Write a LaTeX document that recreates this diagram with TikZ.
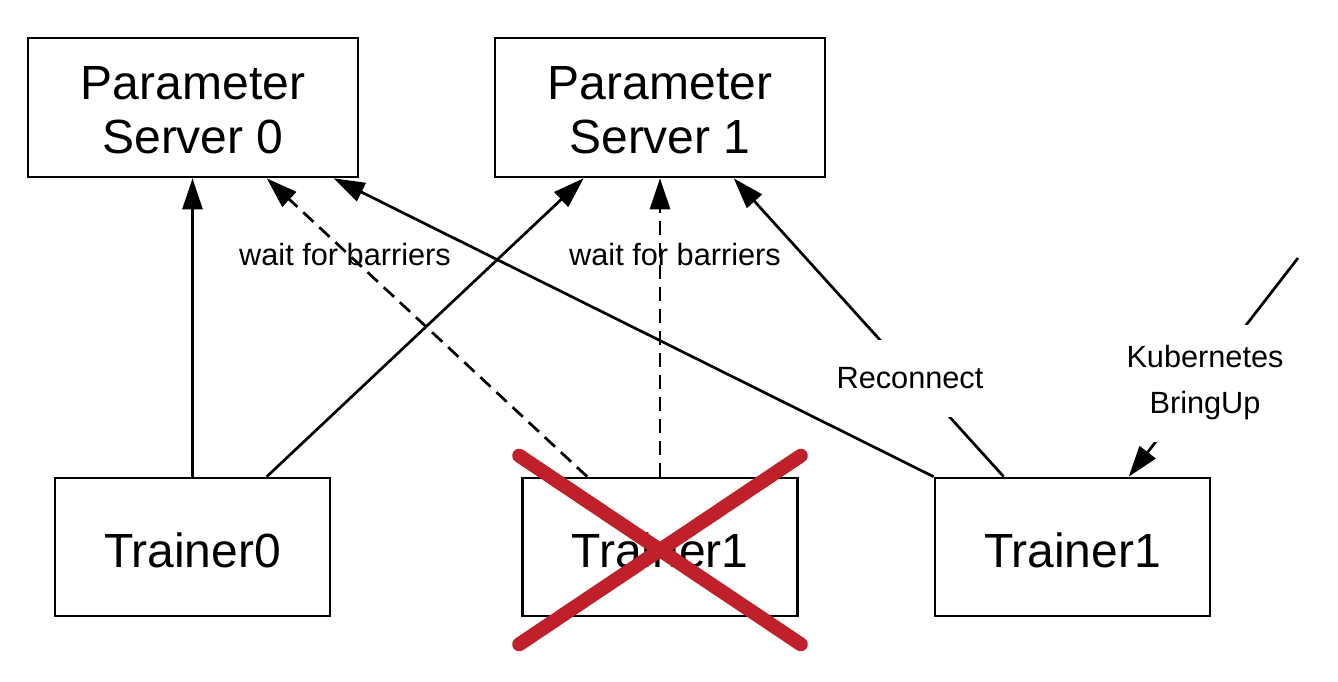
\documentclass[tikz,border=0pt]{standalone}
\usepackage{fontspec}
\setmainfont{Liberation Sans}
\usetikzlibrary{calc,arrows.meta}
\definecolor{crossred}{RGB}{192,32,42}
\tikzset{
  box/.style={draw=black, line width=2.6pt, inner sep=0pt},
  psbox/.style={box, minimum width=330pt, minimum height=139pt},
  trbox/.style={box, minimum width=275pt, minimum height=138pt},
  boxtext/.style={inner sep=0pt, align=center, font=\fontsize{48}{54}\selectfont},
  conn/.style={line width=2.7pt, -{Triangle[length=31pt,width=20pt]}},
  dconn/.style={conn, dash pattern=on 14pt off 8pt},
  lbl/.style={font=\fontsize{30.7}{46}\selectfont, align=center, inner sep=0pt},
  gaplbl/.style={lbl, fill=white},
  cross/.style={draw=crossred, line width=14pt, line cap=round}
}
\begin{document}
\begin{tikzpicture}[x=1pt, y=-1pt]
\useasboundingbox (0,0) rectangle (1338,681);
\fill[white] (0,0) rectangle (1338,681);
\node[psbox] (ps0) at (193,107.5) {};
\node[psbox] (ps1) at (660,107.5) {};
\node[trbox] (t0) at (192.5,547) {};
\node[trbox] (tx) at (660,547) {};
\node[trbox] (t1) at (1072.5,547) {};
\node[boxtext] (ps0t) at ($(ps0.center)+(0,3)$) {Parameter\\Server 0};
\node[boxtext] (ps1t) at ($(ps1.center)+(0,3)$) {Parameter\\Server 1};
\node[boxtext] (t0t) at ($(t0.center)+(0,3)$) {Trainer0};
\node[boxtext] (txt) at ($(tx.center)+(0,3)$) {Trainer1};
\node[boxtext] (t1t) at ($(t1.center)+(0,3)$) {Trainer1};

\draw[conn] (t0.north) -- (t0.north |- ps0.south);
\draw[conn] ($(t0.north west)+(213,0)$) -- ($(ps1.south west)+(90,0)$);
\draw[dconn] ($(tx.north west)+(66,0)$) -- ($(ps0.south west)+(240,0)$);
\draw[dconn] (tx.north) -- (tx.north |- ps1.south);
\draw[conn] (t1.north west) -- ($(ps0.south west)+(307,0)$);
\draw[conn] ($(t1.north west)+(70,0)$) -- ($(ps1.south west)+(240,0)$);
\coordinate (kstart) at (1298,258);
\draw[conn] (kstart) -- ($(t1.north west)+(195,0)$);

\node[lbl] (w0) at (345,255) {wait for barriers};
\node[lbl] (w1) at (675,255) {wait for barriers};
\node[gaplbl, minimum width=150pt, minimum height=77pt] (rc) at (910,378) {Reconnect};
\node[gaplbl, minimum width=165pt, minimum height=117pt] (kb) at (1205,383) {Kubernetes\\BringUp};

\draw[cross] ($(tx.north west)+(-2,-21)$) -- ($(tx.south east)+(2,27)$);
\draw[cross] ($(tx.south west)+(-2,27)$) -- ($(tx.north east)+(2,-21)$);
\end{tikzpicture}
\end{document}
